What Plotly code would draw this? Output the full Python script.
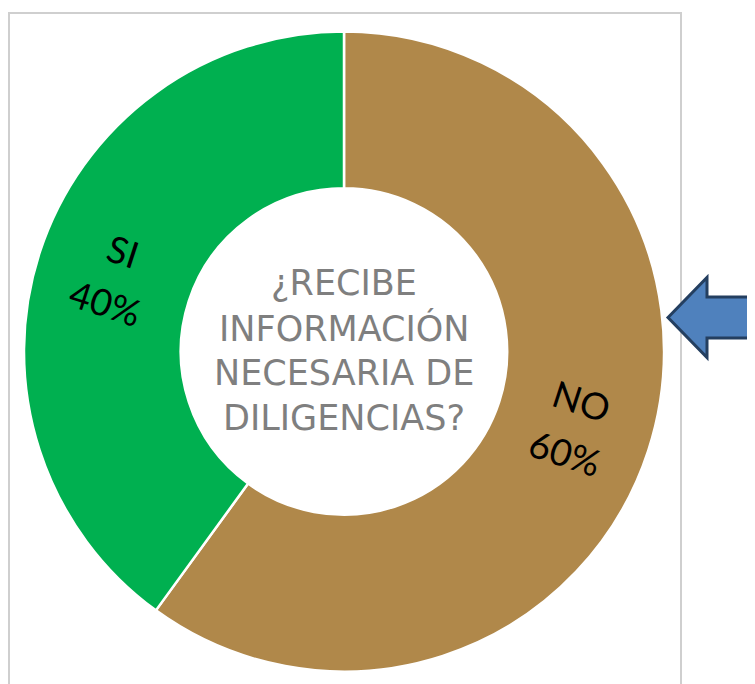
import math
import plotly.graph_objects as go

labels = ["NO", "SI"]
values = [60, 40]
colors = ["#B0884A", "#00B050"]
center_lines = ["¿RECIBE", "INFORMACIÓN", "NECESARIA DE", "DILIGENCIAS?"]

W, H = 755, 684
OFF = 8  # page body margin

def px(x):
    return (x - OFF) / W

def py(y):
    return 1 - (y - OFF) / H

CX, CY, R_OUT = 344, 351.5, 320
HOLE = 0.51

fig = go.Figure()
fig.add_trace(go.Pie(
    labels=labels,
    values=values,
    hole=HOLE,
    sort=False,
    direction="clockwise",
    rotation=0,
    marker=dict(colors=colors, line=dict(color="white", width=2.5)),
    textinfo="none",
    showlegend=False,
    domain=dict(x=[px(CX - R_OUT), px(CX + R_OUT)], y=[py(CY + R_OUT), py(CY - R_OUT)]),
))

# slice labels, rotated radially at each slice's mid-angle (one annotation per line)
total = sum(values)
start = 0.0
r_lab = R_OUT * (1 + HOLE) / 2
LAB_LINE = 55
for lab, v in zip(labels, values):
    frac = v / total
    mid = (start + frac / 2) * 360.0
    start += frac
    a = math.radians(mid)
    x = CX + r_lab * math.sin(a)
    y = CY - r_lab * math.cos(a)
    ang = mid - 90
    if ang > 90:
        ang -= 180
    t = math.radians(ang)
    dx, dy = -math.sin(t), math.cos(t)
    lines = [lab, f"{round(frac * 100)}%"]
    for j, txt in enumerate(lines):
        k = (j - (len(lines) - 1) / 2) * LAB_LINE
        fig.add_annotation(
            x=px(x + k * dx), y=py(y + k * dy), xref="paper", yref="paper",
            xanchor="center", yanchor="middle",
            text=txt, showarrow=False, textangle=ang,
            font=dict(family="Lato, DejaVu Sans, sans-serif", size=37, color="black"),
        )

# center text, one line per annotation
LINE = 45
n = len(center_lines)
for i, line in enumerate(center_lines):
    fig.add_annotation(
        x=px(CX), y=py(CY - 1 + (i - (n - 1) / 2) * LINE), xref="paper", yref="paper",
        xanchor="center", yanchor="middle",
        text=line, showarrow=False,
        font=dict(family="DejaVu Sans, sans-serif", size=35, color="#7F7F7F"),
    )

# frame
fig.add_shape(type="rect", xref="paper", yref="paper",
              x0=px(9), x1=px(681), y0=py(720), y1=py(13),
              line=dict(color="#CFCFCF", width=2), fillcolor="rgba(0,0,0,0)")

# arrow (left-pointing block arrow)
pts = [(668, 317.5), (707, 277.5), (707, 297), (780, 297), (780, 338), (707, 338), (707, 357.5)]
path = "M " + " L ".join(f"{px(x)},{py(y)}" for x, y in pts) + " Z"
fig.add_shape(type="path", xref="paper", yref="paper", path=path,
              fillcolor="#4F81BD", line=dict(color="#243F60", width=3))

fig.update_layout(
    width=W, height=H,
    margin=dict(l=0, r=0, t=0, b=0),
    paper_bgcolor="white",
    plot_bgcolor="white",
)

fig.write_html("out.html")
